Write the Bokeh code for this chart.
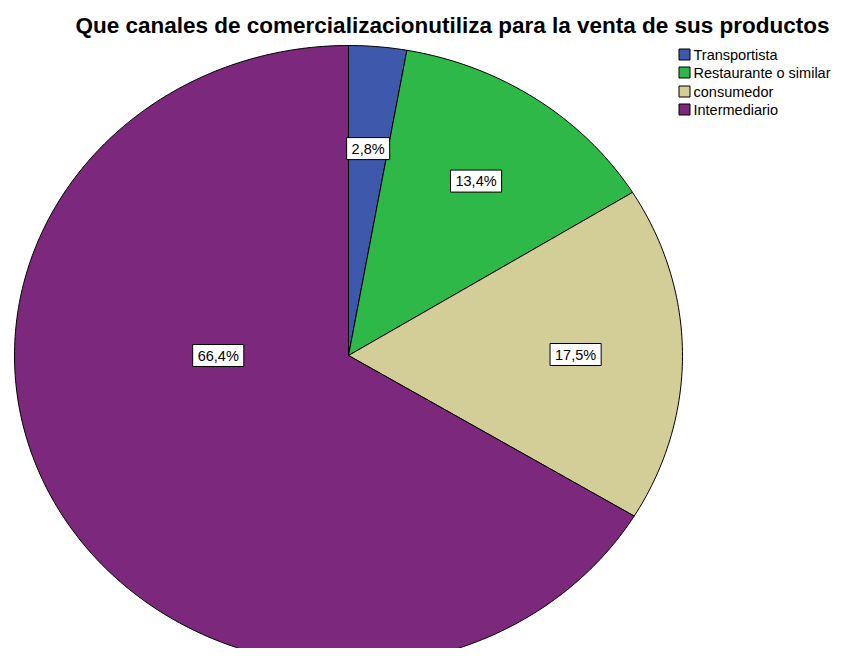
import math
from bokeh.plotting import figure
from bokeh.models import Range1d, Label
from bokeh.core.properties import value
from bokeh.embed import file_html
from bokeh.resources import INLINE

# ---- data ----
categories = ["Transportista", "Restaurante o similar", "consumedor", "Intermediario"]
percents = [2.8, 13.4, 17.5, 66.4]
colors = ["#3E58AC", "#2EB848", "#D3CE97", "#7C287D"]
title_text = "Que canales de comercializacionutiliza para la venta de sus productos"

# ---- layout (image pixels) ----
W, H = 837, 648
CX, CY = 348, 355      # pie centre
RX, RY = 334, 310      # pie radii
FONT = "Liberation Sans"

x0 = (0 - CX) / RX
x1 = (W - CX) / RX
y1 = (CY - 0) / RY
y0 = (CY - H) / RY

def dx(px):
    return (px - CX) / RX

def dy(py):
    return (CY - py) / RY

p = figure(width=W, height=H, output_backend="svg", toolbar_location=None,
           x_range=Range1d(x0, x1), y_range=Range1d(y0, y1),
           min_border=0, outline_line_color=None)
p.axis.visible = False
p.grid.visible = False
p.background_fill_color = "white"
p.border_fill_color = "white"

# ---- wedges from data ----
total = sum(percents)
xs, ys, mids = [], [], []
cum = 0.0
for v in percents:
    a0 = cum / total * 2 * math.pi
    a1 = (cum + v) / total * 2 * math.pi
    n = max(4, int((a1 - a0) / (2 * math.pi) * 400))
    px_ = [0.0]
    py_ = [0.0]
    for i in range(n + 1):
        t = a0 + (a1 - a0) * i / n
        px_.append(math.sin(t))
        py_.append(math.cos(t))
    xs.append(px_)
    ys.append(py_)
    mids.append((a0 + a1) / 2)
    cum += v

p.patches(xs, ys, fill_color=colors, line_color="black", line_width=1)

# ---- value labels ----
label_r = [0.67, 0.68, 0.68, 0.39]
label_angle_override = [None, None, None, 1.5 * math.pi]
lx, ly, lt = [], [], []
for i, v in enumerate(percents):
    ang = label_angle_override[i] if label_angle_override[i] is not None else mids[i]
    lx.append(label_r[i] * math.sin(ang))
    ly.append(label_r[i] * math.cos(ang))
    lt.append(f"{v:.1f}".replace(".", ",") + "%")

p.text(lx, ly, text=lt, text_font=value(FONT), text_font_size="14.5px",
       text_align="center", text_baseline="middle", text_color="black",
       background_fill_color="white", border_line_color="black",
       border_line_width=1, padding=dict(left=5, right=5, top=3, bottom=3))

# ---- title ----
p.add_layout(Label(x=dx(452), y=dy(25), text=title_text, text_font=FONT,
                   text_font_style="bold", text_font_size="22.5px",
                   text_align="center", text_baseline="middle", text_color="black"))

# ---- legend (manual) ----
leg_y = [54, 72, 91, 109]
p.rect([dx(684)] * 4, [dy(y) for y in leg_y], width=11, height=11,
       width_units="screen", height_units="screen",
       fill_color=colors, line_color="black", line_width=1)
p.text([dx(693)] * 4, [dy(y) for y in leg_y], text=categories,
       text_font=value(FONT), text_font_size="14.5px", text_align="left",
       text_baseline="middle", text_color="black")

open("out.html", "w").write(file_html(p, INLINE))
